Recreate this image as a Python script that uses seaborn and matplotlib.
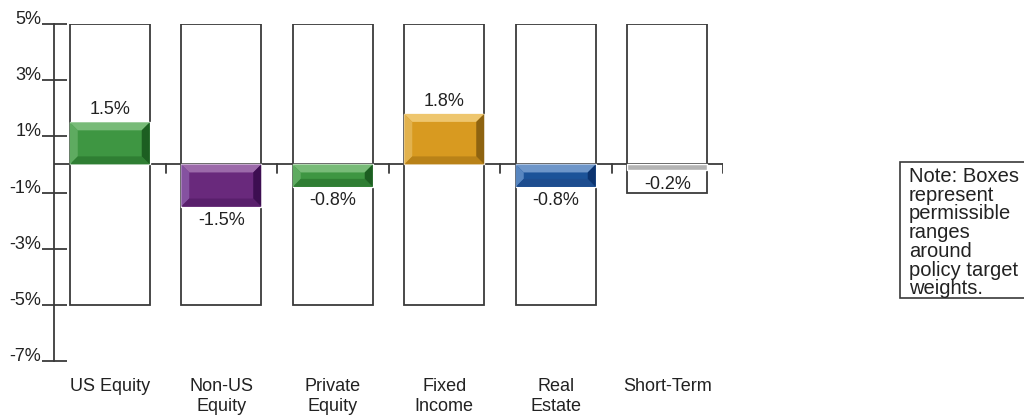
import numpy as np
import pandas as pd
import seaborn as sns
import matplotlib.pyplot as plt
from matplotlib.patches import Polygon, Rectangle

# data
categories = ["US Equity", "Non-US\nEquity", "Private\nEquity", "Fixed\nIncome", "Real\nEstate", "Short-Term"]
deviation = [1.5, -1.5, -0.8, 1.8, -0.8, -0.2]
range_low = [-5, -5, -5, -5, -5, -1]
range_high = [5, 5, 5, 5, 5, 5]
yticks = [5, 3, 1, -1, -3, -5, -7]
note_text = "Note: Boxes\nrepresent\npermissible\nranges\naround\npolicy target\nweights."

# face, top, left, bottom, right
green = ("#3e9642", "#78bb78", "#5eab60", "#2f7e33", "#1c5e21")
shades = [
    green,
    ("#69297c", "#9c6aaa", "#8552a0", "#591f6c", "#3d0e51"),
    green,
    ("#d89a20", "#eec66e", "#e2b24e", "#b98218", "#8e6310"),
    ("#1c5399", "#6e96c9", "#5886c0", "#1e4d8f", "#0b336f"),
    ("#b4b4b4", "#b4b4b4", "#b4b4b4", "#b4b4b4", "#b4b4b4"),
]

df = pd.DataFrame({"cat": categories, "dev": deviation})

sns.set_style("white")
plt.rcParams["font.family"] = ["Liberation Sans", "DejaVu Sans"]

fig = plt.figure(figsize=(10.24, 4.15), dpi=100)
ax = fig.add_axes([54 / 1024, 54 / 415, 669 / 1024, 337 / 415])

bw = 80 / 111.5
# range boxes
ax.bar(range(len(categories)), np.subtract(range_high, range_low), bottom=range_low,
       width=bw, color="white", edgecolor="#3a3a3a", linewidth=1.3, zorder=1)

pal = [s[0] for s in shades]
sns.barplot(data=df, x="cat", y="dev", hue="cat", palette=pal, width=bw,
            legend=False, ax=ax, zorder=3, saturation=1)

ax.set_xlim(-0.5, 5.5)
ax.set_ylim(-7, 5)

# bevels
dx = 8 / 111.5
dy = 8 / 28
for p, s, v in zip(ax.patches[len(categories):], shades, deviation):
    x0 = p.get_x()
    x1 = x0 + p.get_width()
    y0 = min(0, v)
    y1 = max(0, v)
    if abs(v) < 0.5:
        continue
    ddx, ddy = dx, min(dy, (y1 - y0) * 0.38)
    polys = [
        ([(x0, y1), (x1, y1), (x1 - ddx, y1 - ddy), (x0 + ddx, y1 - ddy)], s[1]),
        ([(x0, y0), (x0, y1), (x0 + ddx, y1 - ddy), (x0 + ddx, y0 + ddy)], s[2]),
        ([(x0, y0), (x1, y0), (x1 - ddx, y0 + ddy), (x0 + ddx, y0 + ddy)], s[3]),
        ([(x1, y0), (x1, y1), (x1 - ddx, y1 - ddy), (x1 - ddx, y0 + ddy)], s[4]),
    ]
    for pts, c in polys:
        ax.add_patch(Polygon(pts, closed=True, facecolor=c, edgecolor="none", zorder=4))

# value labels
for i, v in enumerate(deviation):
    off = 3 if v > 0 else -4
    ax.annotate(f"{v:.1f}%", (i, v), xytext=(0, off), textcoords="offset points",
                ha="center", va="bottom" if v > 0 else "top", fontsize=13,
                color="#222222", zorder=5)

# zero line with boundary ticks
ax.axhline(0, color="#3a3a3a", lw=1.3, zorder=2)
for b in np.arange(0.5, 6, 1):
    ax.plot([b, b], [0, -0.3], color="#3a3a3a", lw=1.3, zorder=2)

for side in ["top", "right", "bottom"]:
    ax.spines[side].set_visible(False)
ax.spines["left"].set_color("#3a3a3a")
ax.spines["left"].set_linewidth(1.3)

ax.set_yticks(yticks, labels=[f"{t}%" for t in yticks])
ax.tick_params(axis="y", left=True, direction="inout", length=18, width=1.3,
               color="#3a3a3a", pad=0, labelsize=13, labelcolor="#222222")
for lbl in ax.get_yticklabels():
    lbl.set_verticalalignment("baseline")
ax.set_xticks(range(len(categories)), labels=[])
ax.tick_params(axis="x", length=0)
ax.set_xlabel("")
ax.set_ylabel("")

for i, c in enumerate(categories):
    ax.text(i, -17 / 337, c, transform=ax.get_xaxis_transform(), ha="center", va="top",
            fontsize=13, color="#222222", linespacing=1.2)

# note box
fig.patches.append(Rectangle((900 / 1024, (415 - 298) / 415), 140 / 1024, 136 / 415,
                             transform=fig.transFigure, facecolor="white",
                             edgecolor="#3a3a3a", lw=1.2, clip_on=False))
fig.text(909 / 1024, (415 - 167) / 415, note_text, ha="left", va="top", fontsize=14.5,
         color="#222222", linespacing=0.98)

fig.savefig("out.png", dpi=100)
